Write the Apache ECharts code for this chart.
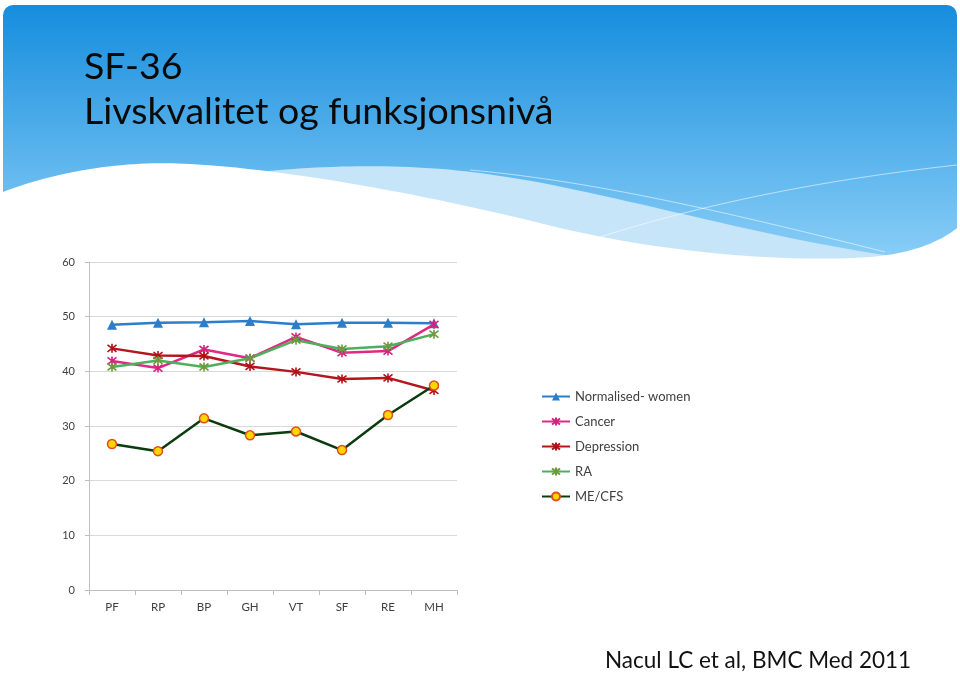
<!DOCTYPE html>
<html>
<head>
<meta charset="utf-8">
<script src="https://cdn.jsdelivr.net/npm/echarts@6/dist/echarts.min.js"></script>
<style>
html,body{margin:0;padding:0;background:#fff;}
#chart{width:960px;height:673px;}
</style>
</head>
<body>
<div id="chart"></div>
<script>
const categories = ['PF','RP','BP','GH','VT','SF','RE','MH'];
const normalisedWomen = [48.5, 48.9, 49.0, 49.2, 48.6, 48.9, 48.9, 48.8];
const cancer = [41.9, 40.6, 44.0, 42.4, 46.3, 43.4, 43.7, 48.6];
const depression = [44.2, 42.9, 42.8, 40.9, 39.9, 38.6, 38.8, 36.5];
const ra = [40.8, 42.0, 40.8, 42.4, 45.7, 44.1, 44.6, 46.8];
const meCfs = [26.7, 25.4, 31.4, 28.3, 29.0, 25.6, 32.0, 37.4];
const yTicks = {min: 0, max: 60, interval: 10};
const seriesNames = ['Normalised- women','Cancer','Depression','RA','ME/CFS'];

const font = 'Lato, "Open Sans", sans-serif';
const asterisk = 'path://M0,0L10,10M10,0L0,10M5,-1.5L5,11.5';

// decorative background wave: sample cubic bezier segments into polygon points
function bezierPoints(start, segs, steps) {
  const pts = [start.slice()];
  let p0 = start;
  segs.forEach(function (s) {
    const c1 = s[0], c2 = s[1], p3 = s[2];
    for (let i = 1; i <= steps; i++) {
      const t = i / steps, u = 1 - t;
      pts.push([
        u*u*u*p0[0] + 3*u*u*t*c1[0] + 3*u*t*t*c2[0] + t*t*t*p3[0],
        u*u*u*p0[1] + 3*u*u*t*c1[1] + 3*u*t*t*c2[1] + t*t*t*p3[1]
      ]);
    }
    p0 = p3;
  });
  return pts;
}
const bandPts = bezierPoints([250,173], [
  [[330,164],[420,163],[500,176]],
  [[600,190],[750,235],[885,255]]
], 30).concat([[885,290],[250,290]]);
const whitePts = bezierPoints([3,192], [
  [[60,170],[130,160],[190,164]],
  [[300,170],[450,200],[560,228]],
  [[680,256],[800,262],[870,257]],
  [[910,254],[940,242],[957,228]]
], 30).concat([[957,300],[3,300]]);

const chart = echarts.init(document.getElementById('chart'), null, {renderer: 'canvas'});

function starSeries(name, data, lineColor, markColor) {
  return {
    name: name, type: 'line', data: data,
    symbol: asterisk, symbolSize: 9, showSymbol: true,
    lineStyle: {color: lineColor, width: 2.5},
    itemStyle: {color: 'none', borderColor: markColor, borderWidth: 1.6},
    emphasis: {disabled: true}, z: 3
  };
}

const option = {
  backgroundColor: '#ffffff',
  animation: false,
  graphic: [
    {type: 'rect', z: -10, silent: true,
      shape: {x: 3, y: 5, width: 954, height: 262, r: [10, 10, 0, 0]},
      style: {fill: new echarts.graphic.LinearGradient(0, 0, 0, 1, [
        {offset: 0, color: '#168ddd'},
        {offset: 1, color: '#8dd0f8'}
      ])}},
    {type: 'polygon', z: -9, silent: true,
      shape: {points: bandPts},
      style: {fill: '#c6e5f9'}},
    {type: 'polygon', z: -8, silent: true,
      shape: {points: whitePts},
      style: {fill: '#ffffff'}},
    {type: 'bezierCurve', z: -7, silent: true,
      shape: {x1: 470, y1: 170, cpx1: 580, cpy1: 180, cpx2: 700, cpy2: 205, x2: 885, y2: 252},
      style: {fill: null, stroke: 'rgba(255,255,255,0.55)', lineWidth: 1}},
    {type: 'bezierCurve', z: -7, silent: true,
      shape: {x1: 600, y1: 237, cpx1: 700, cpy1: 205, cpx2: 820, cpy2: 180, x2: 957, y2: 165},
      style: {fill: null, stroke: 'rgba(255,255,255,0.55)', lineWidth: 1}}
  ],
  title: [
    {text: 'SF-36\nLivskvalitet og funksjonsnivå', left: 79, top: 39,
      textStyle: {fontFamily: font, fontSize: 37.5, fontWeight: 'normal', color: '#0a0a0a', lineHeight: 45}},
    {text: 'Nacul LC et al, BMC Med 2011', left: 600, top: 644,
      textStyle: {fontFamily: font, fontSize: 22.5, fontWeight: 'normal', color: '#111111'}}
  ],
  legend: {
    orient: 'vertical', left: 541, top: 390,
    itemWidth: 28, itemHeight: 10, itemGap: 12, padding: 0,
    textStyle: {fontFamily: font, fontSize: 13, color: '#404040'},
    data: seriesNames
  },
  grid: {left: 89, right: 503, top: 262, bottom: 83, containLabel: false},
  xAxis: {
    type: 'category', data: categories, boundaryGap: true,
    axisLine: {lineStyle: {color: '#bfbfbf', width: 1}},
    axisTick: {show: true, length: 5, lineStyle: {color: '#bfbfbf'}},
    axisLabel: {fontFamily: font, fontSize: 11.5, color: '#404040', margin: 11}
  },
  yAxis: {
    type: 'value', min: yTicks.min, max: yTicks.max, interval: yTicks.interval,
    axisLine: {show: true, lineStyle: {color: '#bfbfbf', width: 1}},
    axisTick: {show: true, length: 4, lineStyle: {color: '#bfbfbf'}},
    splitLine: {lineStyle: {color: '#d9d9d9', width: 1}},
    axisLabel: {fontFamily: font, fontSize: 11, color: '#404040', margin: 14}
  },
  series: [
    {name: seriesNames[0], type: 'line', data: normalisedWomen,
      symbol: 'triangle', symbolSize: 10,
      lineStyle: {color: '#2a7ecb', width: 2.5},
      itemStyle: {color: '#2a7ecb'}, emphasis: {disabled: true}, z: 2},
    starSeries(seriesNames[1], cancer, '#df2a85', '#d8207f'),
    starSeries(seriesNames[2], depression, '#b3161c', '#b01018'),
    starSeries(seriesNames[3], ra, '#4faf5c', '#6e9a3c'),
    {name: seriesNames[4], type: 'line', data: meCfs,
      symbol: 'circle', symbolSize: 9,
      lineStyle: {color: '#0c3b0f', width: 2.5},
      itemStyle: {color: '#ffd500', borderColor: '#e0501a', borderWidth: 1.5},
      emphasis: {disabled: true}, z: 4}
  ]
};
chart.setOption(option);
</script>
</body>
</html>
